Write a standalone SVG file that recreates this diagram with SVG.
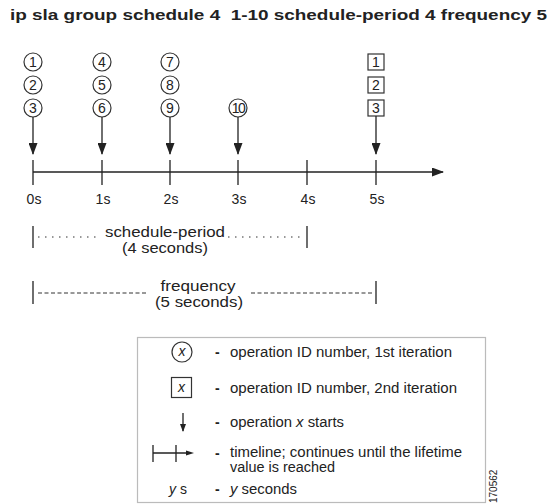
<svg xmlns="http://www.w3.org/2000/svg" width="555" height="504" viewBox="0 0 555 504">
<defs>
<style>
.t{font-family:"Liberation Sans",Arial,sans-serif;fill:#222}
.ln{stroke:#222;stroke-width:1.3;fill:none}
.c{fill:#fff;stroke:#333;stroke-width:1.2}
.num{font-family:"Liberation Sans",Arial,sans-serif;font-size:14px;fill:#222;text-anchor:middle}
.lbl{font-family:"Liberation Sans",Arial,sans-serif;font-size:14px;fill:#222;text-anchor:middle}
.lg{font-family:"Liberation Sans",Arial,sans-serif;font-size:14px;fill:#222}
.dash{font-family:"Liberation Sans",Arial,sans-serif;font-size:14px;font-weight:bold;fill:#222}
</style>
<marker id="ah" markerWidth="12" markerHeight="9" refX="11" refY="4.5" orient="auto" markerUnits="userSpaceOnUse">
<path d="M0,0 L12,4.5 L0,9 Z" fill="#222"/>
</marker>
</defs>
<rect width="555" height="504" fill="#fff"/>
<text x="10" y="20" class="t" font-size="15" font-weight="bold" xml:space="preserve" textLength="537" lengthAdjust="spacingAndGlyphs">ip sla group schedule 4  1-10 schedule-period 4 frequency 5</text>

<g id="op1"><circle cx="33" cy="62" r="9" class="c"/><text x="33" y="67" class="num">1</text></g>
<g id="op2"><circle cx="33" cy="85" r="9" class="c"/><text x="33" y="90" class="num">2</text></g>
<g id="op3"><circle cx="33" cy="108" r="9" class="c"/><text x="33" y="113" class="num">3</text></g>
<g id="op4"><circle cx="102" cy="62" r="9" class="c"/><text x="102" y="67" class="num">4</text></g>
<g id="op5"><circle cx="102" cy="85" r="9" class="c"/><text x="102" y="90" class="num">5</text></g>
<g id="op6"><circle cx="102" cy="108" r="9" class="c"/><text x="102" y="113" class="num">6</text></g>
<g id="op7"><circle cx="170" cy="62" r="9" class="c"/><text x="170" y="67" class="num">7</text></g>
<g id="op8"><circle cx="170" cy="85" r="9" class="c"/><text x="170" y="90" class="num">8</text></g>
<g id="op9"><circle cx="170" cy="108" r="9" class="c"/><text x="170" y="113" class="num">9</text></g>
<g id="op10"><circle cx="238" cy="108" r="9" class="c"/><text x="238" y="113" class="num" letter-spacing="-1.5">10</text></g>
<g id="sq1"><rect x="368" y="54" width="16" height="16" class="c"/><text x="376" y="67" class="num">1</text></g>
<g id="sq2"><rect x="368" y="77" width="16" height="16" class="c"/><text x="376" y="90" class="num">2</text></g>
<g id="sq3"><rect x="368" y="100" width="16" height="16" class="c"/><text x="376" y="113" class="num">3</text></g>

<g id="connectors">
<line x1="33" y1="117" x2="33" y2="154" class="ln" marker-end="url(#ah)"/>
<line x1="102" y1="117" x2="102" y2="154" class="ln" marker-end="url(#ah)"/>
<line x1="170" y1="117" x2="170" y2="154" class="ln" marker-end="url(#ah)"/>
<line x1="238" y1="117" x2="238" y2="154" class="ln" marker-end="url(#ah)"/>
<line x1="376" y1="116" x2="376" y2="154" class="ln" marker-end="url(#ah)"/>
</g>

<g id="timeline">
<line x1="33" y1="172" x2="443" y2="172" class="ln" marker-end="url(#ah)"/>
<path d="M33,160V185M102,160V185M170,160V185M238,160V185M307,160V185M376,160V185" class="ln"/>
<text x="34" y="204" class="lbl" font-size="15">0s</text>
<text x="103" y="204" class="lbl" font-size="15">1s</text>
<text x="171" y="204" class="lbl" font-size="15">2s</text>
<text x="239" y="204" class="lbl" font-size="15">3s</text>
<text x="308" y="204" class="lbl" font-size="15">4s</text>
<text x="377" y="204" class="lbl" font-size="15">5s</text>
</g>

<g id="schedule-period">
<path d="M33,226V248M307,226V248" class="ln"/>
<path d="M38,237H100M228,237H302" stroke="#333" stroke-width="1.2" stroke-dasharray="1.5,5.5" fill="none"/>
<text x="165" y="237" class="lbl" textLength="120" lengthAdjust="spacingAndGlyphs">schedule-period</text>
<text x="165" y="253" class="lbl" textLength="86" lengthAdjust="spacingAndGlyphs">(4 seconds)</text>
</g>

<g id="frequency">
<path d="M33,281V304M376,281V304" class="ln"/>
<path d="M38,293H146M251,293H372" stroke="#333" stroke-width="1" stroke-dasharray="4,2.5" fill="none"/>
<text x="198" y="291" class="lbl" textLength="75" lengthAdjust="spacingAndGlyphs">frequency</text>
<text x="199" y="307" class="lbl" textLength="88" lengthAdjust="spacingAndGlyphs">(5 seconds)</text>
</g>

<g id="legend">
<rect x="137.5" y="337.5" width="348" height="165" fill="#fff" stroke="#bbb" stroke-width="1.2"/>
<circle cx="182" cy="352" r="10" class="c"/>
<text x="182" y="356" class="lg" text-anchor="middle" font-style="italic" font-family="Liberation Serif,serif">x</text>
<rect x="171.5" y="377.5" width="20" height="20" class="c" stroke="#888"/>
<text x="181.5" y="392" class="lg" text-anchor="middle" font-style="italic" font-family="Liberation Serif,serif">x</text>
<line x1="183" y1="413" x2="183" y2="431" class="ln" stroke-width="1"/>
<path d="M180,424 L183,432 L186,424 Z" fill="#222"/>
<path d="M153,445V462M176,445V462" class="ln" stroke-width="1"/>
<line x1="153" y1="453" x2="188" y2="453" class="ln" stroke-width="1"/>
<path d="M186,450.5 L194,453 L186,455.5 Z" fill="#222"/>
<text x="178" y="494" class="lg" text-anchor="middle"><tspan font-style="italic">y</tspan> s</text>
<g class="dash">
<text x="215" y="357">-</text>
<text x="215" y="393">-</text>
<text x="215" y="427">-</text>
<text x="215" y="458">-</text>
<text x="215" y="494">-</text>
</g>
<text x="230" y="357" class="lg" textLength="222" lengthAdjust="spacingAndGlyphs">operation ID number, 1st iteration</text>
<text x="230" y="393" class="lg" textLength="227" lengthAdjust="spacingAndGlyphs">operation ID number, 2nd iteration</text>
<text x="230" y="427" class="lg" textLength="114" lengthAdjust="spacingAndGlyphs">operation <tspan font-style="italic">x</tspan> starts</text>
<text x="230" y="457" class="lg" font-size="13" textLength="232" lengthAdjust="spacingAndGlyphs">timeline; continues until the lifetime</text>
<text x="230" y="472" class="lg" font-size="13" textLength="105" lengthAdjust="spacingAndGlyphs">value is reached</text>
<text x="230" y="494" class="lg" textLength="67" lengthAdjust="spacingAndGlyphs"><tspan font-style="italic">y</tspan> seconds</text>
</g>
<text transform="translate(497,503) rotate(-90)" class="t" font-size="10">170562</text>
</svg>
